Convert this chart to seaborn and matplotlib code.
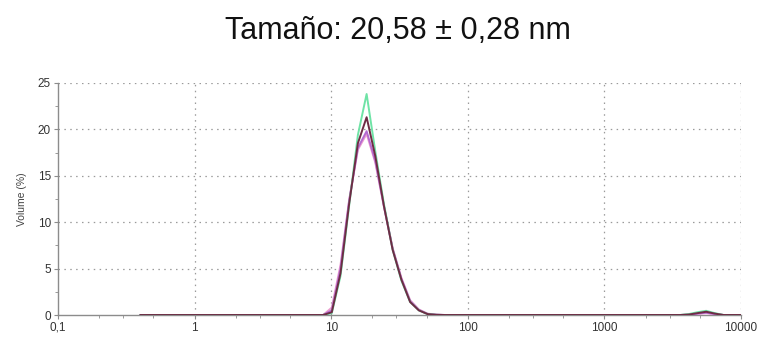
import numpy as np
import pandas as pd
import seaborn as sns
import matplotlib.pyplot as plt
from matplotlib.ticker import FixedLocator, NullFormatter, LogLocator

# Size classes (nm) of the distribution
sizes = [0.4, 7.531, 8.721, 10.1, 11.7, 13.54, 15.69, 18.17, 21.04, 24.36,
         28.21, 32.67, 37.84, 43.82, 50.75, 58.77, 68.06, 78.82,
         3580, 4145, 4801, 5560, 6439, 7456, 10000]

# Volume (%) per measurement
vol_green = [0, 0, 0, 0.2, 4.2, 11.8, 19.4, 23.8, 17.6, 11.9, 7.0, 3.7, 1.4,
             0.5, 0.1, 0.02, 0, 0, 0, 0.1, 0.3, 0.45, 0.2, 0, 0]
vol_maroon = [0, 0, 0, 0.3, 4.5, 12.0, 18.5, 21.3, 17.1, 11.7, 7.0, 3.8, 1.4,
              0.5, 0.1, 0.02, 0, 0, 0, 0.05, 0.2, 0.35, 0.15, 0, 0]
vol_purple = [0, 0, 0, 0.5, 5.0, 12.3, 18.0, 19.8, 16.6, 11.7, 7.1, 3.9, 1.5,
              0.55, 0.12, 0.03, 0, 0, 0, 0.03, 0.15, 0.25, 0.1, 0, 0]
vol_pink = [0, 0, 0, 0.8, 5.4, 12.4, 17.8, 19.5, 16.4, 11.6, 7.2, 4.0, 1.6,
            0.6, 0.15, 0.04, 0, 0, 0, 0.03, 0.12, 0.2, 0.08, 0, 0]

series = {"Medida 1": vol_pink, "Medida 2": vol_purple,
          "Medida 3": vol_green, "Medida 4": vol_maroon}
palette = {"Medida 1": "#ec9ccf", "Medida 2": "#b46ad0",
           "Medida 3": "#6fe3a6", "Medida 4": "#6e2c45"}

df = pd.concat([pd.DataFrame({"size": sizes, "volume": v, "medida": k})
                for k, v in series.items()], ignore_index=True)

x_ticks = [0.1, 1, 10, 100, 1000, 10000]
x_labels = ["0,1", "1", "10", "100", "1000", "10000"]
y_ticks = [0, 5, 10, 15, 20, 25]

sns.set_style("white")
plt.rcParams["font.family"] = ["Liberation Sans", "DejaVu Sans"]

fig = plt.figure(figsize=(7.61, 3.47), dpi=100)
ax = fig.add_axes([0.0762, 0.0922, 0.8975, 0.669])

grid_kw = dict(color="#9a9a9a", lw=0.9, ls=(0, (1.2, 3.5)), zorder=0)
for xv in x_ticks[1:]:
    ax.axvline(xv, **grid_kw)
for yv in y_ticks[1:]:
    ax.axhline(yv, **grid_kw)

sns.lineplot(data=df, x="size", y="volume", hue="medida", palette=palette,
             lw=1.4, legend=False, ax=ax, zorder=3)

ax.set_xscale("log")
ax.set_xlim(0.1, 10000)
ax.set_ylim(0, 25)
ax.xaxis.set_major_locator(FixedLocator(x_ticks))
ax.set_xticklabels(x_labels)
ax.xaxis.set_minor_locator(LogLocator(base=10, subs=[2, 3, 5]))
ax.xaxis.set_minor_formatter(NullFormatter())
ax.yaxis.set_major_locator(FixedLocator(y_ticks))
ax.yaxis.set_minor_locator(FixedLocator([2.5, 7.5, 12.5, 17.5, 22.5]))

for s in ["top", "right"]:
    ax.spines[s].set_visible(False)
for s in ["left", "bottom"]:
    ax.spines[s].set_color("#8c8c8c")
    ax.spines[s].set_linewidth(1.0)

ax.tick_params(axis="both", which="major", direction="out", length=3,
               width=0.8, color="#8c8c8c", labelsize=8.5, labelcolor="#333333",
               pad=2, left=True, bottom=True)
ax.tick_params(axis="both", which="minor", direction="out", length=2,
               width=0.7, color="#9a9a9a", left=True, bottom=True)
ax.set_xlabel("")
ax.set_ylabel("Volume (%)", fontsize=7.5, color="#444444", labelpad=8)

fig.text(0.523, 1 - 39 / 347, "Tamaño: 20,58 ± 0,28 nm", ha="center",
         va="baseline", fontsize=22, color="#111111",
         family=["Liberation Sans", "DejaVu Sans"])

fig.savefig("out.png", dpi=100, facecolor="white")
